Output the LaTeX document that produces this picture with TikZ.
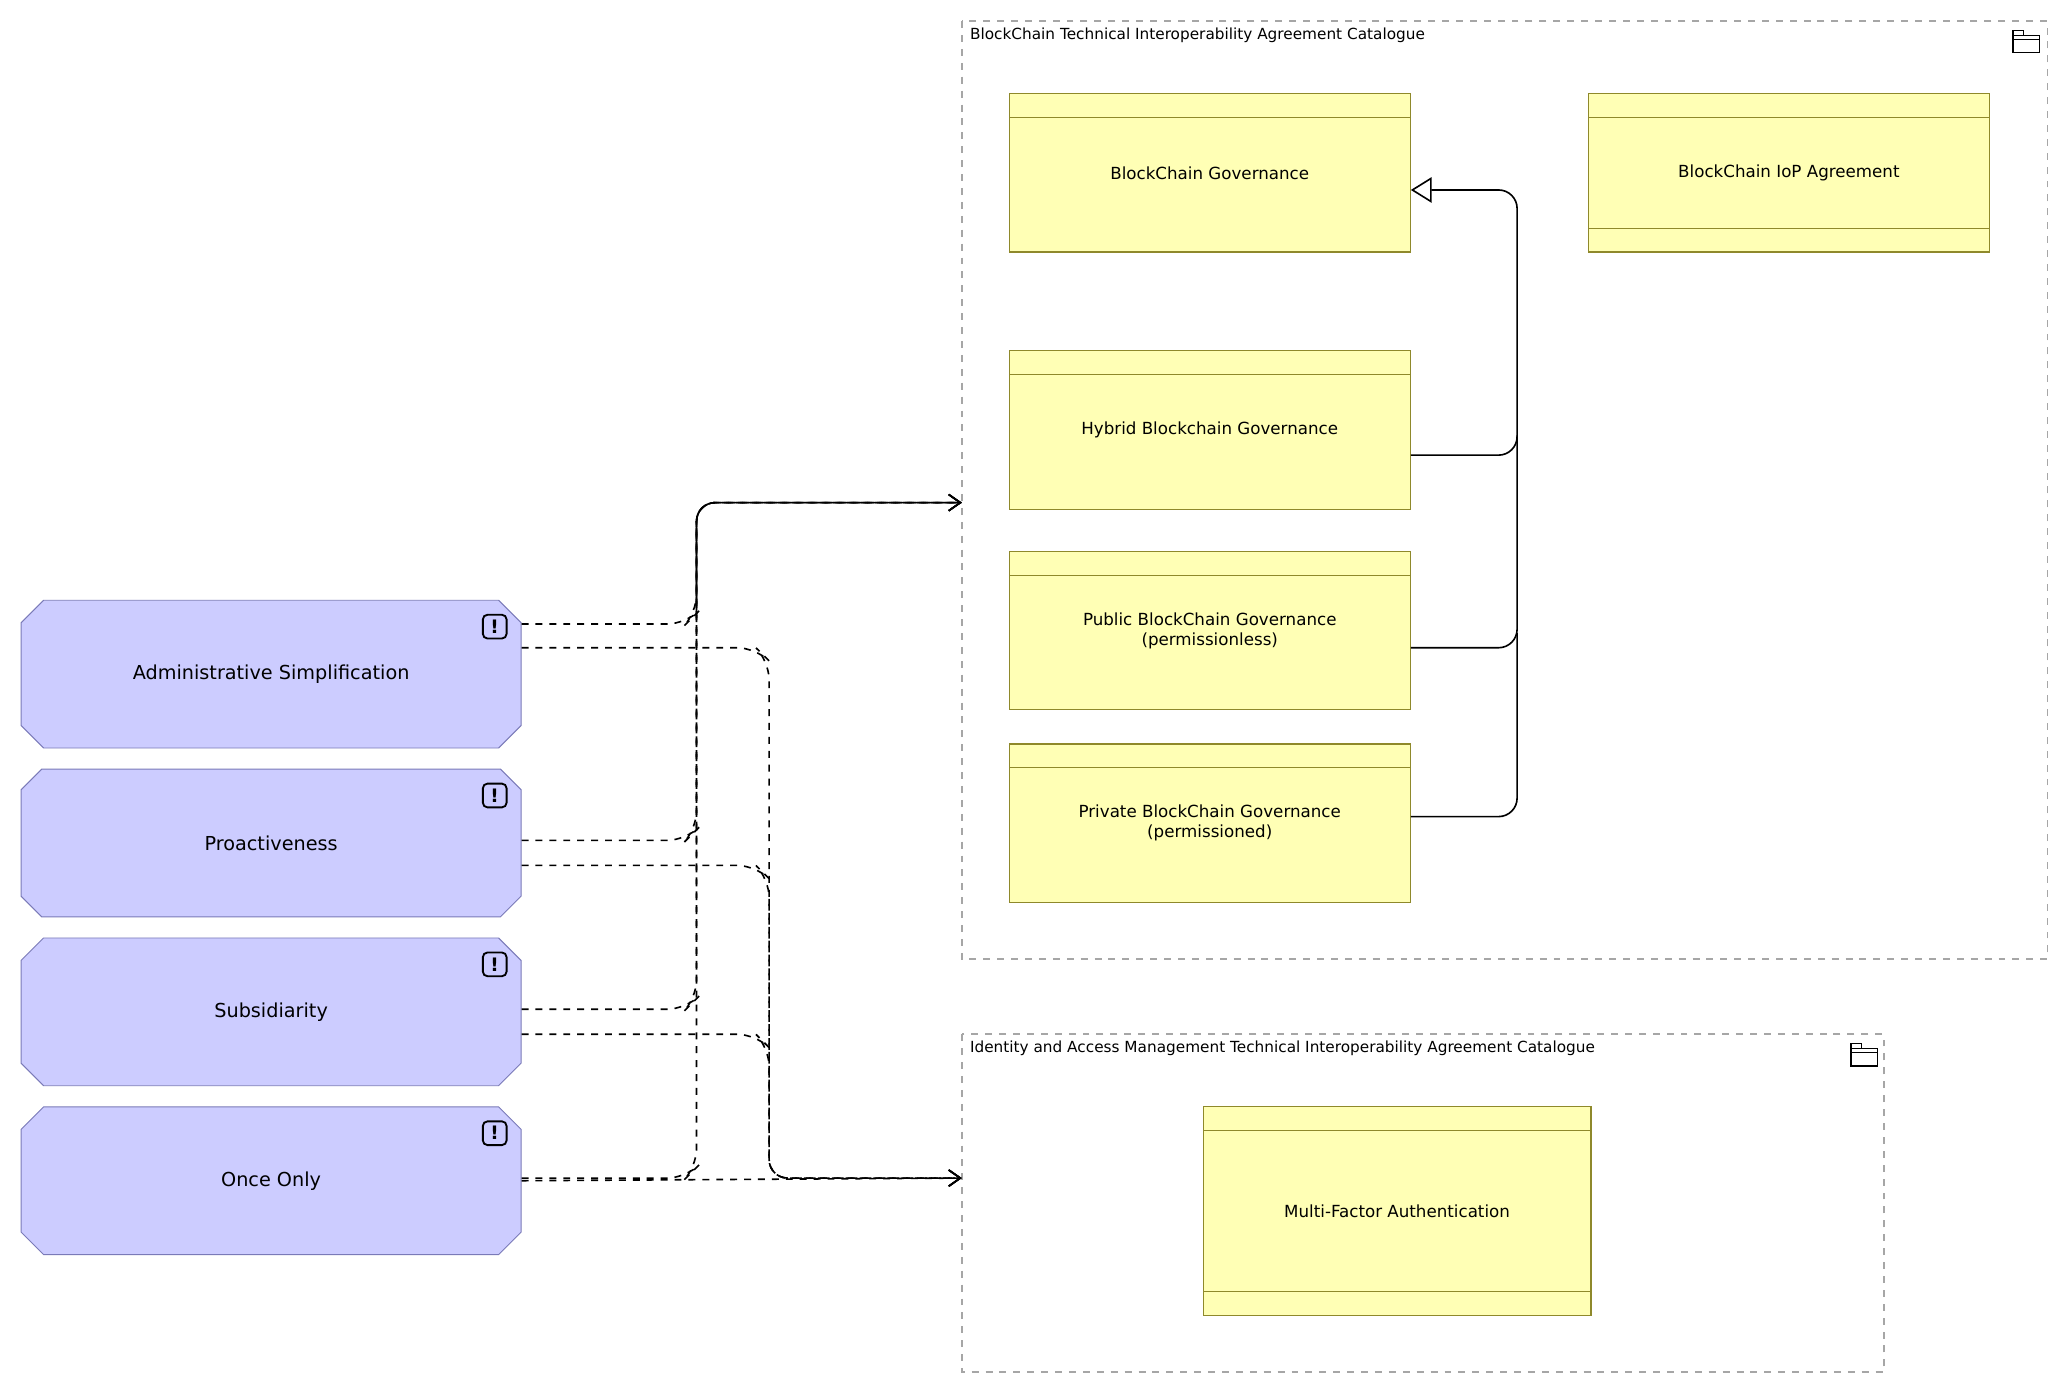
\documentclass[tikz,border=0pt]{standalone}
\usepackage{fontspec}
\setmainfont{DejaVu Sans}
\usetikzlibrary{shapes.misc,arrows.meta}
\begin{document}
\begin{tikzpicture}[x=0.02cm,y=-0.02cm,
 grp/.style={draw=gray!70,dashed,line width=0.7pt},
 grplabel/.style={anchor=north west,inner sep=0,font=\fontsize{6.6}{8}\selectfont},
 agr/.style={draw=olive!70!gray,fill={rgb,255:red,255;green,255;blue,181},line width=0.5pt,minimum width=304*0.02cm,minimum height=120*0.02cm,inner sep=0,font=\fontsize{7.2}{8.6}\selectfont,align=center},
 princ/.style={chamfered rectangle,chamfered rectangle xsep=0.2cm,chamfered rectangle ysep=0.2cm,draw={rgb,255:red,122;green,122;blue,184},fill={rgb,255:red,204;green,204;blue,255},minimum width=379*0.02cm,minimum height=112*0.02cm,inner sep=0,font=\fontsize{8.3}{10}\selectfont},
 infl/.style={dashed,line width=0.7pt,-{Straight Barb[length=5pt,width=7pt]}},
 spec/.style={line width=0.7pt,-{Triangle[open,length=9pt,width=11pt,fill=white]}},
 hd/.style={draw=olive!70!gray,line width=0.5pt}]
\useasboundingbox (0,0) rectangle (1560,1051);
% groups
\draw[grp] (729,16) rectangle (1552,727);
\node[grplabel] (g1l) at (735,21) {BlockChain Technical Interoperability Agreement Catalogue};
\draw[grp] (729,784) rectangle (1428,1040);
\node[grplabel] (g2l) at (735,789) {Identity and Access Management Technical Interoperability Agreement Catalogue};
\coordinate (g1in) at (729,381);
\coordinate (g2in) at (729,893);
% folder icons
\foreach \x/\y in {1526/27,1403/795}{
 \draw[line width=0.6pt] (\x,\y) rectangle ++(20,13);
 \draw[line width=0.6pt] (\x,\y+3) -- ++(20,0);
 \draw[line width=0.6pt] (\x,\y) -- ++(0,-4) -- ++(8,0) -- ++(0,4);
}
% agreements
\node[agr] (bg) at (917,131) {BlockChain Governance};
\draw[hd] (765,89) -- (1069,89);
\node[agr] (iop) at (1356,131) {BlockChain IoP Agreement};
\draw[hd] (1204,89) -- (1508,89); \draw[hd] (1204,173) -- (1508,173);
\node[agr] (hyb) at (917,326) {Hybrid Blockchain Governance};
\draw[hd] (765,284) -- (1069,284);
\node[agr] (pub) at (917,478) {Public BlockChain Governance\\(permissionless)};
\draw[hd] (765,436) -- (1069,436);
\node[agr] (pri) at (917,624) {Private BlockChain Governance\\(permissioned)};
\draw[hd] (765,582) -- (1069,582);
\node[agr,minimum width=294*0.02cm,minimum height=158*0.02cm] (mfa) at (1059,918) {Multi-Factor Authentication};
\draw[hd] (912,857) -- (1206,857); \draw[hd] (912,979) -- (1206,979);
% principles
\node[princ] (adm) at (205.5,511) {Administrative Simplification};
\node[princ] (pro) at (205.5,639) {Proactiveness};
\node[princ] (sub) at (205.5,767) {Subsidiarity};
\node[princ] (onc) at (205.5,895) {Once Only};
\foreach \n/\y in {a/475,b/603,c/731,d/859}{
 \node[draw,rounded corners=2pt,line width=0.8pt,minimum size=18*0.02cm,inner sep=0,font=\bfseries\fontsize{8}{8}\selectfont] (ic\n) at (375,\y) {!};
}
% specialization
\draw[spec,rounded corners=8] (hyb.east |- 0,345) -- (1150,345) -- (1150,144) -- (bg.east |- 0,144);
\draw[line width=0.7pt,rounded corners=8] (pub.east |- 0,491) -- (1150,491) -- (1150,330);
\draw[line width=0.7pt,rounded corners=8] (pri.east |- 0,619) -- (1150,619) -- (1150,480);
% influence to group 1
\draw[infl,rounded corners=8] (adm.east |- 0,473) -- (520,473) -- (528,465) -- (528,381) -- (g1in);
\draw[infl,rounded corners=8] (pro.east |- 0,637) -- (520,637) -- (528,629) -- (528,381) -- (g1in);
\draw[infl,rounded corners=8] (sub.east |- 0,765) -- (520,765) -- (528,757) -- (528,381) -- (g1in);
\draw[infl,rounded corners=8] (onc.east |- 0,893) -- (520,893) -- (528,885) -- (528,381) -- (g1in);
\draw[line width=0.7pt,rounded corners=8] (528,465) -- (528,381) -- (g1in);
% influence to group 2
\draw[infl,rounded corners=8] (adm.east |- 0,491) -- (573,491) -- (583,501) -- (583,893) -- (g2in);
\draw[infl,rounded corners=8] (pro.east |- 0,656) -- (573,656) -- (583,666) -- (583,893) -- (g2in);
\draw[infl,rounded corners=8] (sub.east |- 0,784) -- (573,784) -- (583,794) -- (583,893) -- (g2in);
\draw[infl] (onc.east |- 0,895) -- (g2in);
\end{tikzpicture}
\end{document}
